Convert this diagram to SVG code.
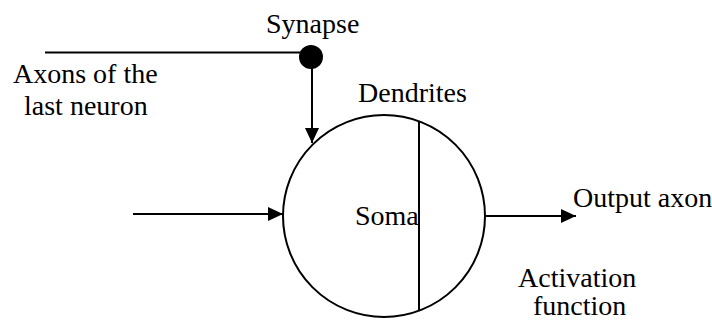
<svg xmlns="http://www.w3.org/2000/svg" width="712" height="320" viewBox="0 0 712 320">
<style>
.ln{stroke:#000;stroke-width:2;fill:none}
</style>
<defs>
<marker id="ahb" markerWidth="15" markerHeight="14" refX="15" refY="7" orient="auto" markerUnits="userSpaceOnUse" viewBox="0 0 15 14">
<path d="M0,0 L15,7 L0,14 Z" fill="#000"/>
</marker>
</defs>
<g id="connectors">
<line class="ln" x1="45" y1="52.5" x2="305" y2="52.5"/>
<line class="ln" x1="312" y1="60" x2="312" y2="143" marker-end="url(#ahb)"/>
<line class="ln" x1="133" y1="214" x2="283" y2="214" marker-end="url(#ahb)"/>
<line class="ln" x1="485" y1="216" x2="576" y2="216" marker-end="url(#ahb)"/>
</g>
<g id="synapse">
<circle cx="311" cy="57" r="12" fill="#000"/>
<text x="266" y="33" font-family="Liberation Serif" font-size="28">Synapse</text>
</g>
<g id="axons-label">
<text x="13" y="83" font-family="Liberation Serif" font-size="28">Axons of the</text>
<text x="24" y="115" font-family="Liberation Serif" font-size="28">last neuron</text>
</g>
<g id="soma">
<circle cx="384" cy="216" r="101" fill="#fff" stroke="#000" stroke-width="2"/>
<line class="ln" x1="419" y1="121" x2="419" y2="311"/>
<text x="355" y="225" font-family="Liberation Serif" font-size="28">Soma</text>
</g>
<g id="dendrites">
<text x="358" y="102" font-family="Liberation Serif" font-size="28">Dendrites</text>
</g>
<g id="output">
<text x="573" y="207" font-family="Liberation Serif" font-size="28">Output axon</text>
</g>
<g id="activation">
<text x="518" y="287" font-family="Liberation Serif" font-size="28">Activation</text>
<text x="533" y="315" font-family="Liberation Serif" font-size="28">function</text>
</g>
</svg>
